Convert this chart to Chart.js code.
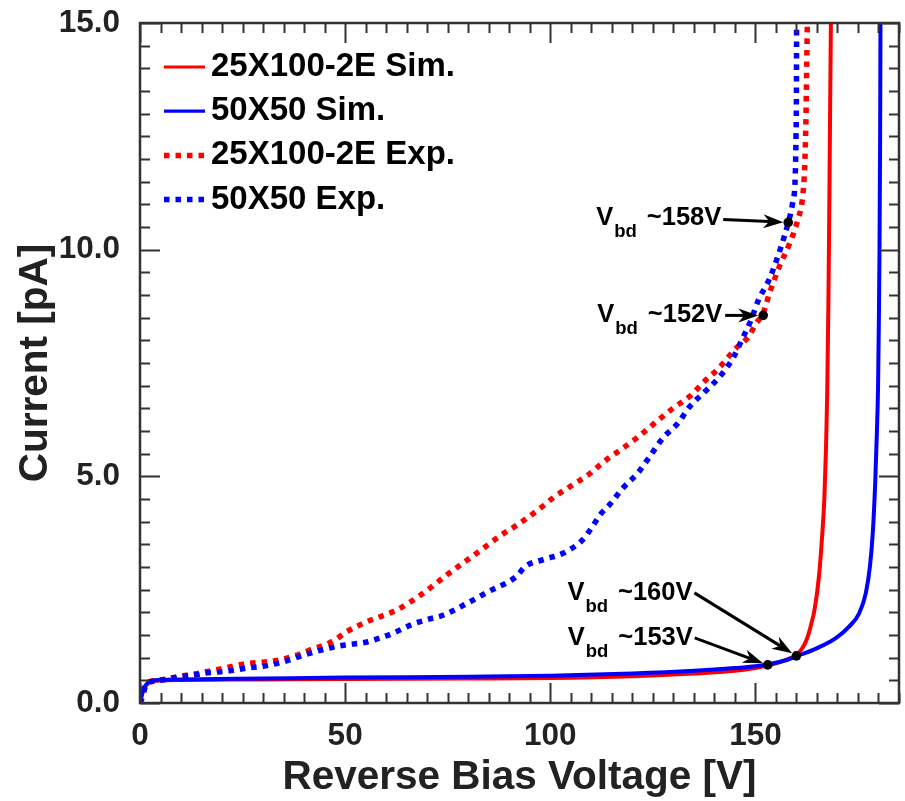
<!DOCTYPE html>
<html>
<head>
<meta charset="utf-8">
<title>Reverse bias IV</title>
<script src="https://cdn.jsdelivr.net/npm/chart.js@4.4.1/dist/chart.umd.min.js"></script>
<style>
  html, body { margin: 0; padding: 0; background: #fff; }
  #wrap { width: 905px; height: 801px; }
</style>
</head>
<body>
<div id="wrap"><canvas id="ivChart" width="905" height="801"></canvas></div>
<script>
// series names
const seriesNames = ['25X100-2E Sim.', '50X50 Sim.', '25X100-2E Exp.', '50X50 Exp.'];

// 25X100-2E simulation
const simRedV = [0, 0.5, 1, 2, 3, 5, 10, 30, 50, 80, 100, 120, 135, 145, 150, 153, 156, 158, 160,
  161.5, 162.5, 163.5, 164.5, 165.5, 166.2, 166.8, 167.2, 167.5, 167.8, 168.0, 168.2, 168.45];
const simRedI = [0, 0.2, 0.33, 0.44, 0.48, 0.5, 0.51, 0.52, 0.53, 0.54, 0.55, 0.59, 0.65, 0.71, 0.77, 0.83, 0.9, 0.97, 1.06,
  1.22, 1.4, 1.7, 2.1, 2.8, 3.6, 4.5, 5.6, 6.8, 8.9, 10.8, 13, 15.5];

// 50X50 simulation
const simBlueV = [0, 0.5, 1, 2, 3, 5, 10, 30, 50, 80, 100, 120, 135, 145, 150, 153, 156, 158, 160,
  164.8, 169.6, 172.9, 175.3, 176.9, 177.9, 178.6, 179.2, 179.6, 179.9, 180.1, 180.25, 180.4, 180.5];
const simBlueI = [0, 0.2, 0.33, 0.45, 0.49, 0.51, 0.52, 0.54, 0.56, 0.58, 0.6, 0.65, 0.71, 0.77, 0.81, 0.85, 0.91, 0.96, 1.03,
  1.2, 1.43, 1.69, 1.98, 2.42, 3.0, 3.74, 4.85, 5.95, 7, 8.5, 10, 12.5, 15.5];

// 25X100-2E measurement
const expRedV = [0, 0.5, 1.2, 2, 3.2, 5.7, 8, 10.5, 13.4, 16, 19, 23.5, 26, 30, 34, 38, 41.4, 46, 48, 50, 55,
  62.5, 69, 75, 82, 88, 92.5, 98.6, 100.6, 105.1, 109.2, 113.6, 117.7, 121.7, 125.8, 129.9, 134.3, 137.6,
  141, 145, 148.5, 150, 151.9, 153.4, 155.8, 158.3, 160.3, 161.5, 162, 162.3, 162.5, 162.7];
const expRedI = [0, 0.25, 0.36, 0.45, 0.49, 0.52, 0.56, 0.6, 0.64, 0.69, 0.74, 0.83, 0.87, 0.9, 0.95, 1.05, 1.17, 1.32, 1.42, 1.55, 1.78,
  2.05, 2.42, 2.84, 3.3, 3.7, 3.96, 4.37, 4.52, 4.79, 5.03, 5.36, 5.62, 5.89, 6.2, 6.5, 6.79, 7.1,
  7.38, 7.8, 8.1, 8.35, 8.6, 9.03, 9.62, 10.13, 10.65, 11.16, 11.8, 12.8, 14, 15.3];

// 50X50 measurement
const expBlueV = [0, 0.8, 1.2, 2, 3.2, 5.7, 8.1, 10.5, 13.4, 15.8, 18.3, 20.7, 23.5, 26, 30, 36.5, 39, 43, 47, 50,
  55, 58, 61.7, 66.5, 70, 74, 78.7, 85, 91.7, 94, 98.6, 103.5, 107.9, 109.6, 112.4, 114.4, 117.7, 121.3,
  124.2, 127.4, 131.1, 133.9, 137.6, 141.2, 144.5, 146.9, 148.9, 150.7, 153.4, 156.2, 158, 159.1, 159.7,
  159.9, 160, 160.05];
const expBlueI = [0, 0.18, 0.34, 0.45, 0.48, 0.51, 0.55, 0.59, 0.62, 0.66, 0.68, 0.7, 0.73, 0.77, 0.81, 0.95, 1.03, 1.14, 1.23, 1.28,
  1.34, 1.42, 1.54, 1.74, 1.84, 1.94, 2.15, 2.46, 2.79, 3.02, 3.17, 3.32, 3.6, 3.8, 4.18, 4.37, 4.74, 5.07,
  5.43, 5.84, 6.17, 6.53, 6.86, 7.19, 7.6, 8.05, 8.44, 8.88, 9.35, 10.05, 10.6, 11.05, 11.6,
  12.5, 13.5, 15.3];

// axes
const xTicks = [0, 50, 100, 150];
const yTicks = [0, 5, 10, 15];
const xMinorStep = 5;
const yMinorStep = 0.5;

// breakdown voltage markers
const vbdText = ['~158V', '~152V', '~160V', '~153V'];
const vbdV = [158, 151.9, 160, 153];
const vbdI = [10.6, 8.55, 1.04, 0.84];

function toPoints(xs, ys) {
  return xs.map((v, i) => ({ x: v, y: ys[i] }));
}

const FONT = '"Liberation Sans", Arial, Helvetica, sans-serif';

// inward ticks on all four sides + frame
const frameTicks = {
  id: 'frameTicks',
  afterDatasetsDraw(chart) {
    const { ctx, chartArea: a, scales: { x, y } } = chart;
    ctx.save();
    ctx.strokeStyle = '#333';
    ctx.lineWidth = 2;
    ctx.beginPath();
    for (let i = 0; i * xMinorStep <= x.max; i++) {
      const v = i * xMinorStep;
      const px = Math.round(x.getPixelForValue(v)) + 0.5;
      const len = xTicks.includes(v) ? 20 : 10;
      ctx.moveTo(px, a.bottom); ctx.lineTo(px, a.bottom - len);
      ctx.moveTo(px, a.top); ctx.lineTo(px, a.top + len);
    }
    for (let i = 0; i * yMinorStep <= y.max; i++) {
      const v = i * yMinorStep;
      const py = Math.round(y.getPixelForValue(v)) + 0.5;
      const len = yTicks.includes(v) ? 20 : 10;
      ctx.moveTo(a.left, py); ctx.lineTo(a.left + len, py);
      ctx.moveTo(a.right, py); ctx.lineTo(a.right - len, py);
    }
    ctx.stroke();
    ctx.lineWidth = 2.5;
    ctx.strokeRect(a.left, a.top, a.right - a.left, a.bottom - a.top);
    ctx.restore();
  }
};

// legend in the upper left of the plot
const legendInside = {
  id: 'legendInside',
  afterDatasetsDraw(chart) {
    const { ctx, chartArea: a } = chart;
    ctx.save();
    ctx.font = 'bold 33px ' + FONT;
    ctx.textBaseline = 'middle';
    ctx.textAlign = 'left';
    chart.data.datasets.forEach((ds, i) => {
      const yy = a.top + 44 + i * 44.2;
      ctx.beginPath();
      ctx.strokeStyle = ds.borderColor;
      ctx.lineWidth = ds.borderDash ? ds.borderWidth : 3.2;
      ctx.setLineDash(ds.borderDash || []);
      ctx.moveTo(a.left + 24, yy);
      ctx.lineTo(a.left + 65, yy);
      ctx.stroke();
      ctx.setLineDash([]);
      ctx.fillStyle = '#000';
      ctx.fillText(ds.label, a.left + 71, yy);
    });
    ctx.restore();
  }
};

// V_bd annotations: text offset from dot, arrow start offset from dot
const vbdLayout = [
  { tx: -192, ty: 3, ax: -65, ay: -3 },
  { tx: -166, ty: 7, ax: -38, ay: 0 },
  { tx: -229, ty: -56, ax: -102, ay: -63 },
  { tx: -200, ty: -20, ax: -73, ay: -27 }
];

const vbdMarks = {
  id: 'vbdMarks',
  afterDatasetsDraw(chart) {
    const { ctx, scales: { x, y } } = chart;
    ctx.save();
    ctx.fillStyle = '#000';
    ctx.strokeStyle = '#000';
    vbdText.forEach((label, i) => {
      const px = x.getPixelForValue(vbdV[i]);
      const py = y.getPixelForValue(vbdI[i]);
      const L = vbdLayout[i];

      // text V_bd ~xxxV
      const tx = px + L.tx, ty = py + L.ty;
      ctx.textBaseline = 'alphabetic';
      ctx.textAlign = 'left';
      ctx.font = 'bold 25.5px ' + FONT;
      ctx.fillText('V', tx, ty);
      const vw = ctx.measureText('V').width;
      ctx.font = 'bold 18.5px ' + FONT;
      ctx.fillText('bd', tx + vw + 1, ty + 12);
      const bw = ctx.measureText('bd').width;
      ctx.font = 'bold 25.5px ' + FONT;
      ctx.fillText(label, tx + vw + 1 + bw + 10, ty);

      // arrow
      const sx = px + L.ax, sy = py + L.ay;
      const dx = px - sx, dy = py - sy;
      const d = Math.hypot(dx, dy);
      const ux = dx / d, uy = dy / d;
      const nx = -uy, ny = ux;
      const tipX = px - ux * 5, tipY = py - uy * 5;
      const hl = 20, hw = 7, notch = 6;
      ctx.lineWidth = 3;
      ctx.beginPath();
      ctx.moveTo(sx, sy);
      ctx.lineTo(tipX - ux * (hl - notch), tipY - uy * (hl - notch));
      ctx.stroke();
      ctx.beginPath();
      ctx.moveTo(tipX, tipY);
      ctx.lineTo(tipX - ux * hl + nx * hw, tipY - uy * hl + ny * hw);
      ctx.lineTo(tipX - ux * (hl - notch), tipY - uy * (hl - notch));
      ctx.lineTo(tipX - ux * hl - nx * hw, tipY - uy * hl - ny * hw);
      ctx.closePath();
      ctx.fill();

      // dot
      ctx.beginPath();
      ctx.arc(px, py, 4.8, 0, Math.PI * 2);
      ctx.fill();
    });
    ctx.restore();
  }
};

const ctx = document.getElementById('ivChart').getContext('2d');
const ivChart = new Chart(ctx, {
  type: 'scatter',
  data: {
    datasets: [
      {
        label: seriesNames[0],
        data: toPoints(simRedV, simRedI),
        borderColor: '#ff0000',
        borderWidth: 4,
        order: 4
      },
      {
        label: seriesNames[1],
        data: toPoints(simBlueV, simBlueI),
        borderColor: '#0000ff',
        borderWidth: 4,
        order: 3
      },
      {
        label: seriesNames[2],
        data: toPoints(expRedV, expRedI),
        borderColor: '#ff0000',
        borderWidth: 5.5,
        borderDash: [5.5, 6],
        order: 2
      },
      {
        label: seriesNames[3],
        data: toPoints(expBlueV, expBlueI),
        borderColor: '#0000ff',
        borderWidth: 5.5,
        borderDash: [5.5, 6],
        order: 1
      }
    ]
  },
  options: {
    responsive: false,
    animation: false,
    devicePixelRatio: 1,
    layout: { padding: { top: 23, right: 6, left: 0, bottom: 0 } },
    datasets: {
      scatter: {
        showLine: true,
        pointRadius: 0,
        pointHoverRadius: 0,
        cubicInterpolationMode: 'monotone',
        clip: 0
      }
    },
    plugins: {
      legend: { display: false },
      tooltip: { enabled: false }
    },
    scales: {
      x: {
        type: 'linear',
        min: 0,
        max: 185,
        grid: { display: false },
        border: { display: false },
        afterBuildTicks: (scale) => { scale.ticks = xTicks.map(v => ({ value: v })); },
        afterFit: (scale) => { scale.height = 98; },
        ticks: {
          color: '#222',
          padding: 6,
          maxRotation: 0,
          font: { family: FONT, size: 31.5, weight: 'bold' }
        },
        title: {
          display: true,
          text: 'Reverse Bias Voltage [V]',
          color: '#222',
          padding: { top: 0, bottom: 3 },
          font: { family: FONT, size: 40.5, weight: 'bold', lineHeight: 1 }
        }
      },
      y: {
        type: 'linear',
        min: 0,
        max: 15,
        grid: { display: false },
        border: { display: false },
        afterBuildTicks: (scale) => { scale.ticks = yTicks.map(v => ({ value: v })); },
        afterFit: (scale) => { scale.width = 140; },
        ticks: {
          color: '#222',
          padding: 12,
          callback: (v) => Number(v).toFixed(1),
          font: { family: FONT, size: 31.5, weight: 'bold', lineHeight: 0.5 }
        },
        title: {
          display: true,
          text: 'Current [pA]',
          color: '#222',
          padding: { top: 16, bottom: 0 },
          font: { family: FONT, size: 40.5, weight: 'bold', lineHeight: 1 }
        }
      }
    }
  },
  plugins: [frameTicks, legendInside, vbdMarks]
});
</script>
</body>
</html>
